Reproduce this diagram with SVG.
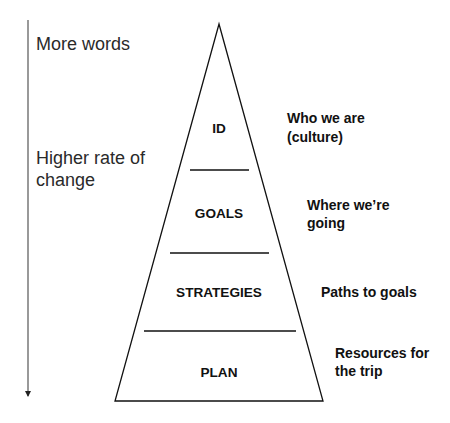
<svg xmlns="http://www.w3.org/2000/svg" width="450" height="423" viewBox="0 0 450 423">
  <style>
    .side { font-family: "Liberation Sans", Arial, sans-serif; font-size: 18px; fill: #2a2a2a; }
    .lvl { font-family: "Liberation Sans", Arial, sans-serif; font-size: 13.6px; font-weight: bold; fill: #111; text-anchor: middle; }
    .note { font-family: "Liberation Sans", Arial, sans-serif; font-size: 14px; font-weight: bold; fill: #111; }
    .ln { stroke: #111; stroke-width: 1.3; fill: none; }
  </style>
  <defs>
    <marker id="arrow" markerWidth="6" markerHeight="6" refX="5" refY="3" orient="auto" markerUnits="userSpaceOnUse">
      <path d="M0,0 L6,3 L0,6 Z" fill="#222"/>
    </marker>
  </defs>
  <rect width="450" height="423" fill="#fff"/>

  <g id="axis">
    <line x1="28" y1="20" x2="28" y2="396" stroke="#555" stroke-width="1.2" marker-end="url(#arrow)"/>
    <text class="side" x="36" y="50">More words</text>
    <text class="side" x="36" y="164">Higher rate of</text>
    <text class="side" x="36" y="186">change</text>
  </g>

  <g id="pyramid">
    <path class="ln" d="M219,24 L323,401 L115,401 Z" stroke-linejoin="miter"/>
  </g>

  <g id="connectors">
    <line class="ln" x1="190" y1="170" x2="249" y2="170"/>
    <line class="ln" x1="170" y1="253" x2="269" y2="253"/>
    <line class="ln" x1="144" y1="331" x2="296" y2="331"/>
  </g>

  <g id="node-id">
    <text class="lvl" x="219" y="133">ID</text>
    <text class="note" x="287" y="123">Who we are</text>
    <text class="note" x="287" y="142">(culture)</text>
  </g>
  <g id="node-goals">
    <text class="lvl" x="219" y="218">GOALS</text>
    <text class="note" x="307" y="210">Where we’re</text>
    <text class="note" x="307" y="228">going</text>
  </g>
  <g id="node-strategies">
    <text class="lvl" x="219" y="297">STRATEGIES</text>
    <text class="note" x="321" y="297">Paths to goals</text>
  </g>
  <g id="node-plan">
    <text class="lvl" x="219" y="377">PLAN</text>
    <text class="note" x="335" y="358">Resources for</text>
    <text class="note" x="335" y="376">the trip</text>
  </g>
</svg>
